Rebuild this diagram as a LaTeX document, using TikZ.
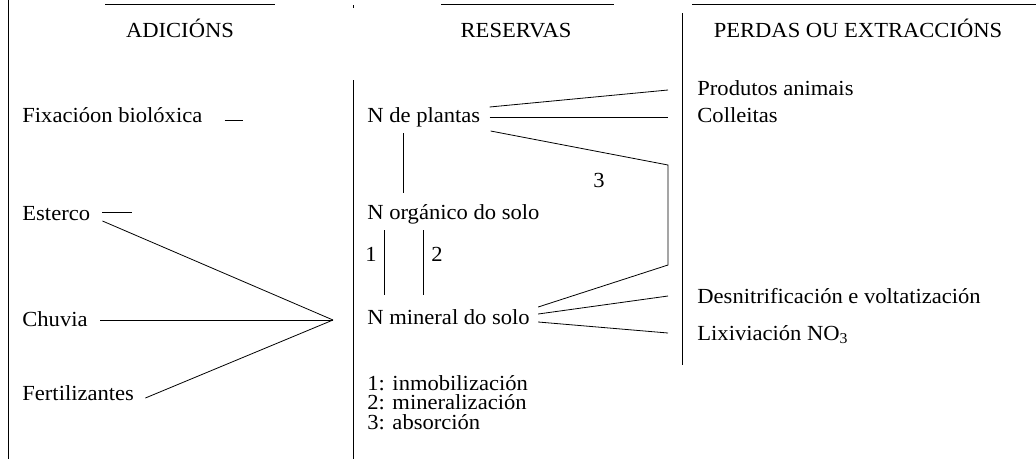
\documentclass[tikz,border=0pt]{standalone}
\usepackage{fontspec}
\setmainfont{Liberation Serif}[FakeStretch=1.05]
\usetikzlibrary{positioning}
\tikzset{
  txt/.style={inner sep=0pt, anchor=base west, font=\fontsize{21.5}{20}\selectfont},
  head/.style={inner sep=0pt, anchor=base, font=\fontsize{21.5}{20}\selectfont},
}
\begin{document}
\begin{tikzpicture}[x=1pt, y=-1pt, line width=0.8pt]
\useasboundingbox (0,0) rectangle (1036,459);
% column heads
\node[head] (adic) at (180,37) {ADICIÓNS};
\node[head] (res) at (516,37) {RESERVAS};
\node[head] (perd) at (858,37) {PERDAS OU EXTRACCIÓNS};
\draw (105,4) -- (275,4);
\draw (441,4) -- (614,4);
\draw (692,4) -- (1036,4);
% column rules
\draw (8,0) -- (8,459);
\draw (353,5) -- (353,8);
\draw (353,80) -- (353,459);
\draw (682,13) -- (682,365);

% additions
\node[txt] (fix) at (22,122) {Fixacióon biolóxica};
\node[txt] (est) at (22,220) {Esterco};
\node[txt] (chu) at (22,326) {Chuvia};
\node[txt] (fer) at (22,400) {Fertilizantes};
% reserves
\node[txt] (pla) at (367,122) {N de plantas};
\node[txt] (org) at (367,219) {N orgánico do solo};
\node[txt] (min) at (367,324) {N mineral do solo};
\node[txt] (n1) at (365,261) {1};
\node[txt] (n2) at (431,261) {2};
\node[txt] (n3) at (593,187) {3};
\node[txt, align=left, font=\fontsize{21.5}{19.5}\selectfont] (ley) at (367,429)
  {1: inmobilización\\2: mineralización\\3: absorción};
% losses
\node[txt] (ani) at (697,95) {Produtos animais};
\node[txt] (col) at (697,122) {Colleitas};
\node[txt] (des) at (697,303) {Desnitrificación e voltatización};
\node[txt] (lix) at (697,340) {Lixiviación NO\textsubscript{3}};

% free ends
\coordinate (hub) at (333,320);
\coordinate (c-ani) at (668,90);
\coordinate (c-col) at (668,117);
\coordinate (c-up) at (668,165);
\coordinate (c-dn) at (668,265);
\coordinate (c-des) at (668,296);
\coordinate (c-lix) at (668,333);

% connectors
\draw ([xshift=22pt,yshift=2pt]fix.base east) -- +(18,0);
\draw ([xshift=12pt,yshift=8pt]est.base east) -- +(30,0);
\draw ([xshift=12pt,yshift=-1pt]est.base east) -- (hub);
\draw ([xshift=12pt,yshift=6pt]chu.base east) -- (hub);
\draw ([xshift=11pt,yshift=2pt]fer.base east) -- (hub);
\draw ([xshift=9pt,yshift=15pt]pla.base east) -- (c-ani);
\draw ([xshift=9pt,yshift=5pt]pla.base east) -- (c-col);
\draw ([xshift=10pt,yshift=-9pt]pla.base east) -- (c-up) -- (c-dn)
  -- ([xshift=8pt,yshift=17pt]min.base east);
\draw ([xshift=8pt,yshift=10pt]min.base east) -- (c-des);
\draw ([xshift=8pt,yshift=2pt]min.base east) -- (c-lix);
\draw ([xshift=36pt,yshift=-11pt]pla.base west) -- ([xshift=36pt,yshift=26pt]org.base west);
\draw ([xshift=17pt,yshift=-11pt]org.base west) -- ([xshift=17pt,yshift=29pt]min.base west);
\draw ([xshift=56pt,yshift=-11pt]org.base west) -- ([xshift=56pt,yshift=29pt]min.base west);
\end{tikzpicture}
\end{document}
